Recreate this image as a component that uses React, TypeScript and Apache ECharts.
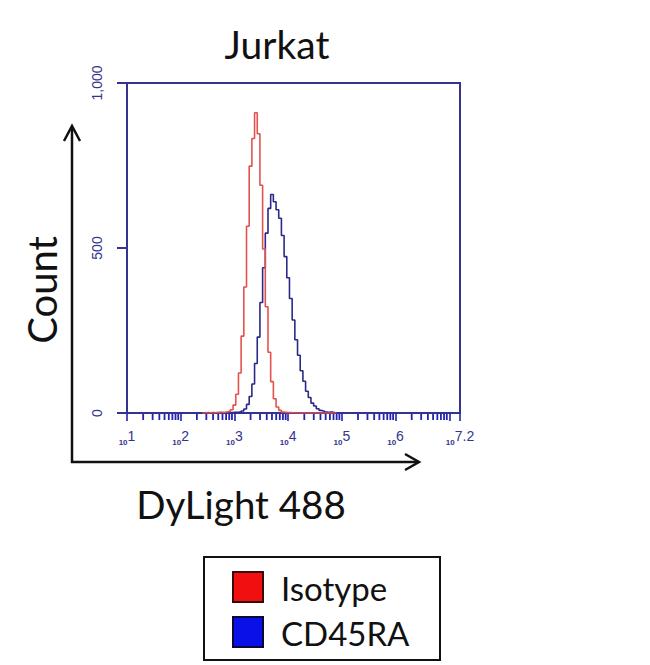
import React, { useEffect, useRef } from "react";
import * as echarts from "echarts";

// Histogram bins (log10 of fluorescence intensity, DyLight 488)
const BINS = [
  2.40, 2.45, 2.50, 2.55, 2.60, 2.65, 2.70, 2.75, 2.80, 2.85,
  2.90, 2.95, 3.00, 3.05, 3.10, 3.15, 3.20, 3.25, 3.30, 3.35,
  3.40, 3.45, 3.50, 3.55, 3.60, 3.65, 3.70, 3.75, 3.80, 3.85,
  3.90, 3.95, 4.00, 4.05, 4.10, 4.15, 4.20, 4.25, 4.30, 4.35,
  4.40, 4.45, 4.50, 4.55, 4.60, 4.65, 4.70, 4.75, 4.80, 4.85,
  4.90,
];

// Counts – Isotype control (red)
const ISOTYPE = [
  0, 1, 0, 1, 0, 1, 1, 2, 2, 3,
  5, 10, 24, 57, 121, 233, 382, 566, 748, 832,
  910, 846, 690, 497, 322, 184, 95, 43, 18, 8,
  3, 2, 1, 1, 0, 0, 0, 0, 0, 0,
  0, 0, 0, 0, 0, 0, 0, 0, 0, 0,
  0,
];

// Counts – CD45RA (blue)
const CD45RA = [
  0, 0, 1, 0, 1, 0, 1, 1, 0, 1,
  1, 1, 2, 2, 3, 6, 12, 26, 50, 88,
  150, 230, 335, 440, 545, 620, 662, 640, 616, 590,
  538, 474, 410, 347, 282, 222, 175, 128, 96, 66,
  47, 30, 21, 13, 8, 6, 3, 2, 3, 1,
  0,
];

const X_MIN = 1;
const X_MAX = 7.2;
const Y_TICKS = [0, 500, 1000];
const SERIES_NAMES = ["Isotype", "CD45RA"];
const LEGEND_COLORS = ["#f01010", "#0a10e8"];

const NAVY = "#34348e";
const TICK_BLUE = "#2222b4";
const FONT = "Lato, 'Open Sans', sans-serif";
const AXIS_FONT = "'Liberation Sans', Arial, sans-serif";

export default function App() {
  const ref = useRef<HTMLDivElement>(null);

  useEffect(() => {
    if (!ref.current) return;
    const chart = echarts.init(ref.current, undefined, { renderer: "svg" });

    const minorTicks: number[] = [];
    for (let n = 1; n <= 7; n++) {
      for (let k = 2; k <= 9; k++) {
        const v = n + Math.log10(k);
        if (v < X_MAX) minorTicks.push(v);
      }
    }

    const option: any = {
      animation: false,
      backgroundColor: "#ffffff",
      grid: {
        left: 127,
        right: 190,
        top: 83,
        bottom: 252,
        show: true,
        borderColor: NAVY,
        borderWidth: 2,
        containLabel: false,
      },
      xAxis: {
        type: "value",
        min: X_MIN,
        max: X_MAX,
        interval: 1,
        splitLine: { show: false },
        axisLine: { show: true, lineStyle: { color: NAVY, width: 2 } },
        axisTick: { show: true, length: 8, lineStyle: { color: TICK_BLUE, width: 1.6 } },
        axisLabel: {
          interval: 0,
          hideOverlap: false,
          showMinLabel: true,
          showMaxLabel: true,
          margin: 16,
          formatter: (v: number) => {
            const r = Math.round(v * 10) / 10;
            if (Math.abs(r - 7) < 1e-6) return "";
            return `{b|10}{e|${r}}`;
          },
          rich: {
            b: {
              fontSize: 8,
              fontWeight: "bold",
              fontFamily: AXIS_FONT,
              color: NAVY,
              verticalAlign: "bottom",
              lineHeight: 17,
            },
            e: {
              fontSize: 14,
              fontFamily: AXIS_FONT,
              color: NAVY,
              verticalAlign: "top",
              lineHeight: 17,
            },
          },
        },
      },
      yAxis: {
        type: "value",
        min: Y_TICKS[0],
        max: Y_TICKS[Y_TICKS.length - 1],
        interval: 500,
        splitLine: { show: false },
        axisLine: { show: true, lineStyle: { color: NAVY, width: 2 } },
        axisTick: { show: true, inside: false, length: 10, lineStyle: { color: NAVY, width: 2 } },
        axisLabel: {
          rotate: 90,
          margin: 23,
          fontSize: 14,
          fontFamily: AXIS_FONT,
          color: NAVY,
          formatter: (v: number) => v.toLocaleString("en-US"),
        },
      },
      series: [
        {
          name: SERIES_NAMES[1],
          type: "line",
          step: "middle",
          showSymbol: false,
          data: BINS.map((b, i) => [b, CD45RA[i]]),
          lineStyle: { color: "#2a2a86", width: 1.6 },
          itemStyle: { color: "#2a2a86" },
          z: 3,
        },
        {
          name: SERIES_NAMES[0],
          type: "line",
          step: "middle",
          showSymbol: false,
          data: BINS.map((b, i) => [b, ISOTYPE[i]]),
          lineStyle: { color: "#e2534f", width: 1.6 },
          itemStyle: { color: "#e2534f" },
          z: 4,
        },
        {
          type: "custom",
          silent: true,
          clip: false,
          data: minorTicks.map((v) => [v, 0]),
          encode: { x: 0, y: 1 },
          renderItem: (_p: any, api: any) => {
            const pt = api.coord([api.value(0), 0]);
            return {
              type: "line",
              shape: { x1: pt[0], y1: pt[1] + 1, x2: pt[0], y2: pt[1] + 7 },
              style: { stroke: TICK_BLUE, lineWidth: 1.8 },
            };
          },
          z: 5,
        },
      ],
      graphic: [
        // Title
        {
          type: "text",
          x: 277,
          y: 44,
          style: {
            text: "Jurkat",
            fontSize: 39,
            fontFamily: FONT,
            fill: "#111",
            align: "center",
            verticalAlign: "middle",
          },
        },
        // Y axis arrow
        {
          type: "line",
          shape: { x1: 72, y1: 463, x2: 72, y2: 127 },
          style: { stroke: "#111", lineWidth: 2.5 },
        },
        {
          type: "polyline",
          shape: { points: [[64, 141], [72, 126], [80, 141]] },
          style: { stroke: "#111", lineWidth: 2.5, fill: null },
        },
        // X axis arrow
        {
          type: "line",
          shape: { x1: 71, y1: 462, x2: 419, y2: 462 },
          style: { stroke: "#111", lineWidth: 2.5 },
        },
        {
          type: "polyline",
          shape: { points: [[405, 454], [419, 462], [405, 470]] },
          style: { stroke: "#111", lineWidth: 2.5, fill: null },
        },
        // Axis titles
        {
          type: "text",
          x: 42,
          y: 290,
          rotation: Math.PI / 2,
          style: {
            text: "Count",
            fontSize: 40,
            fontFamily: FONT,
            fill: "#111",
            align: "center",
            verticalAlign: "middle",
          },
        },
        {
          type: "text",
          x: 241,
          y: 504,
          style: {
            text: "DyLight 488",
            fontSize: 38.5,
            fontFamily: FONT,
            fill: "#111",
            align: "center",
            verticalAlign: "middle",
          },
        },
        // Legend
        {
          type: "rect",
          shape: { x: 204, y: 557, width: 236, height: 103 },
          style: { stroke: "#111", lineWidth: 2, fill: "#fff" },
        },
        {
          type: "rect",
          shape: { x: 233, y: 572, width: 30, height: 30 },
          style: { stroke: "#3a0a0a", lineWidth: 2, fill: LEGEND_COLORS[0] },
        },
        {
          type: "rect",
          shape: { x: 233, y: 617, width: 30, height: 30 },
          style: { stroke: "#0a0a3a", lineWidth: 2, fill: LEGEND_COLORS[1] },
        },
        {
          type: "text",
          x: 281,
          y: 588,
          style: {
            text: SERIES_NAMES[0],
            fontSize: 33,
            fontFamily: FONT,
            fill: "#111",
            align: "left",
            verticalAlign: "middle",
          },
        },
        {
          type: "text",
          x: 281,
          y: 633,
          style: {
            text: SERIES_NAMES[1],
            fontSize: 33,
            fontFamily: FONT,
            fill: "#111",
            align: "left",
            verticalAlign: "middle",
          },
        },
      ],
    };

    chart.setOption(option);
    return () => chart.dispose();
  }, []);

  return (
    <div
      ref={ref}
      style={{ position: "fixed", left: 0, top: 0, width: 650, height: 665 }}
    />
  );
}
